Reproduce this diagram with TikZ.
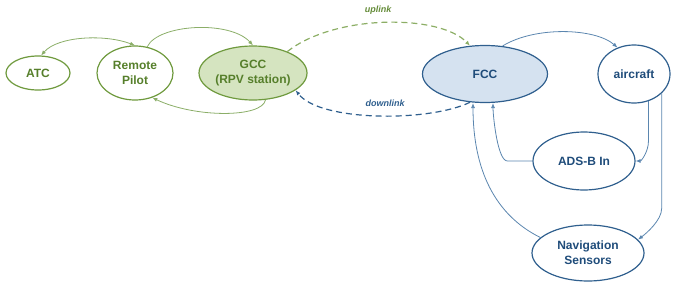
\documentclass[tikz,border=0pt]{standalone}
\usepackage{fontspec}
\setmainfont{Liberation Sans}
\usetikzlibrary{arrows.meta,shapes.geometric}
\definecolor{gline}{HTML}{6F9A3E}
\definecolor{gtext}{HTML}{567F2B}
\definecolor{gfill}{HTML}{D5E4C0}
\definecolor{garrow}{HTML}{8BAE68}
\definecolor{bline}{HTML}{2F5F8E}
\definecolor{btext}{HTML}{1F4C7A}
\definecolor{bfill}{HTML}{D5E2F0}
\definecolor{barrow}{HTML}{5B86AF}
\begin{document}
\begin{tikzpicture}[x=1pt,y=-1pt,
  gnode/.style={ellipse,draw=gline,line width=1.2pt,text=gtext,font=\bfseries\fontsize{12}{15}\selectfont,align=center,inner sep=0pt},
  bnode/.style={ellipse,draw=bline,line width=1.2pt,text=btext,font=\bfseries\fontsize{12}{15}\selectfont,align=center,inner sep=0pt},
  tip/.style={-{Latex[length=5pt,width=4pt]}},
  garr/.style={draw=garrow,line width=0.8pt,tip},
  barr/.style={draw=barrow,line width=0.8pt,tip},
  dsh/.style={dash pattern=on 6pt off 4pt,line width=1.2pt},
  lbl/.style={font=\bfseries\itshape\fontsize{9}{11}\selectfont}]
\useasboundingbox (0,0) rectangle (680,284);
\node[gnode,minimum width=64pt,minimum height=34pt] (atc) at (38,73) {ATC};
\node[gnode,minimum width=76pt,minimum height=54pt] (rp) at (135,73) {Remote\\Pilot};
\node[gnode,fill=gfill,minimum width=108pt,minimum height=54pt] (gcc) at (253,73) {GCC\\(RPV station)};
\node[bnode,fill=bfill,minimum width=125pt,minimum height=57pt] (fcc) at (485,74) {FCC};
\node[bnode,minimum width=72pt,minimum height=58pt] (ac) at (634,74) {aircraft};
\node[bnode,minimum width=102pt,minimum height=58pt] (adsb) at (584,161) {ADS-B In};
\node[bnode,minimum width=112pt,minimum height=56pt] (nav) at (588,253) {Navigation\\Sensors};
% green arrows
\draw[garr,{Latex[length=5pt,width=4pt]}-{Latex[length=5pt,width=4pt]}] (atc.80) .. controls (58,36) and (105,34) .. (rp.north);
\draw[garr] (rp.65) .. controls (158,24) and (230,20) .. (gcc.north);
\draw[garr] (gcc.-65) .. controls (262,118) and (195,118) .. (rp.-55);
% uplink / downlink
\draw[garr,draw=gline!80,dsh] (gcc.32) .. controls (335,14) and (440,14) .. (fcc.118);
\node[lbl,text=gline!90!black] (up) at (378,10) {uplink};
\draw[barr,draw=bline,dsh] (fcc.-118) .. controls (430,122) and (320,122) .. (gcc.-22);
\node[lbl,text=bline] (down) at (385,103) {downlink};
% blue arrows
\draw[barr] (fcc.58) .. controls (535,26) and (595,28) .. (ac.122);
\draw[barr] (ac.-62) -- ++(0,40) .. controls +(0,10) and +(6,0) .. (adsb.east);
\draw[barr] (ac.-35) -- ++(0,115) .. controls +(0,12) and +(8,-6) .. (nav.15);
\draw[barr] (adsb.west) -- ++(-25,0) .. controls +(-10,0) and +(0,12) .. ([xshift=8pt]fcc.south);
\draw[barr] (nav.162) .. controls (495,215) and (473,170) .. ([xshift=-12pt]fcc.south);
\end{tikzpicture}
\end{document}
